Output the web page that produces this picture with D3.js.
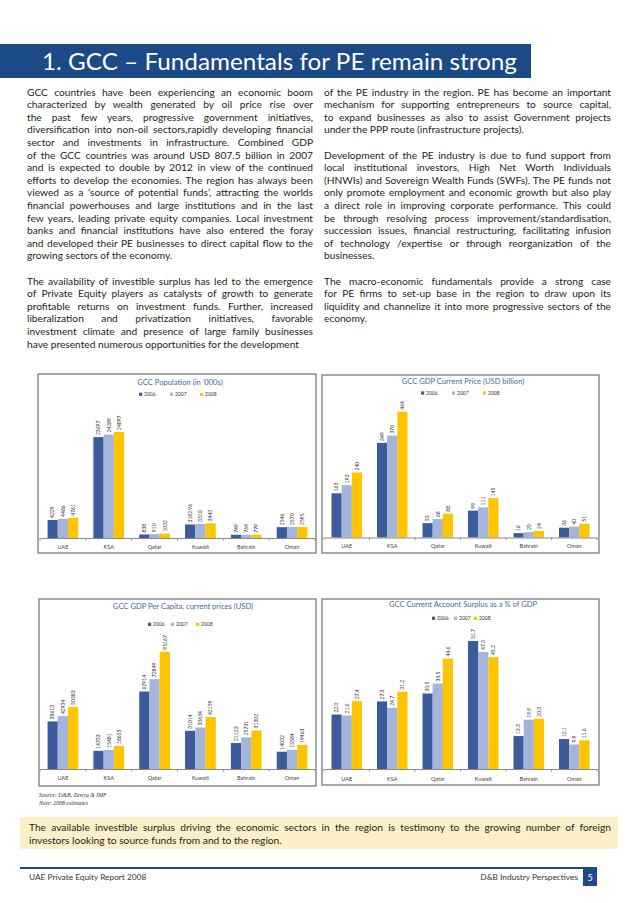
<!DOCTYPE html>
<html>
<head>
<meta charset="utf-8">
<script src="https://cdn.jsdelivr.net/npm/d3@7"></script>
<style>
body { margin: 0; background: #fff; }
svg { display: block; }
</style>
</head>
<body>
<div id="page"></div>
<script>
// chart data
var countries = ["UAE", "KSA", "Qatar", "Kuwait", "Bahrain", "Oman"];
var years = ["2006", "2007", "2008"];
var popValues = [[4229, 4486, 4761], [23697, 24289, 24897], [838, 910, 1032], [3182.96, 3310, 3443], [749, 764, 779], [2546, 2570, 2595]];
var gdpValues = [[163, 193, 240], [349, 376, 464], [53, 68, 88], [99, 111, 145], [16, 20, 24], [36, 40, 51]];
var perCapValues = [[38613, 42934, 50383], [14733, 15481, 18655], [62914, 72849, 95167], [31014, 33634, 42159], [21123, 25731, 31302], [14032, 15584, 19463]];
var surplusValues = [[22.0, 21.6, 27.4], [27.3, 24.7, 31.2], [30.5, 34.5, 44.6], [51.7, 47.3, 45.2], [13.3, 19.9, 20.3], [12.1, 9.9, 11.6]];

// body text, one entry per printed line ("" = blank line, last line of a paragraph not justified)
var leftLines = [
  "GCC countries have been experiencing an economic boom",
  "characterized by wealth generated by oil price rise over",
  "the past few years, progressive government initiatives,",
  "diversification into non-oil sectors,rapidly developing financial",
  "sector and investments in infrastructure. Combined GDP",
  "of the GCC countries was around USD 807.5 billion in 2007",
  "and is expected to double by 2012 in view of the continued",
  "efforts to develop the economies. The region has always been",
  "viewed as a \u2018source of potential funds\u2019, attracting the worlds",
  "financial powerhouses and large institutions and in the last",
  "few years, leading private equity companies. Local investment",
  "banks and financial institutions have also entered the foray",
  "and developed their PE businesses to direct capital flow to the",
  "growing sectors of the economy.",
  "",
  "The availability of investible surplus has led to the emergence",
  "of Private Equity players as catalysts of growth to generate",
  "profitable returns on investment funds. Further, increased",
  "liberalization and privatization initiatives, favorable",
  "investment climate and presence of large family businesses",
  "have presented numerous opportunities for the development"
];
var rightLines = [
  "of the PE industry in the region. PE has become an important",
  "mechanism for supporting entrepreneurs to source capital,",
  "to expand businesses as also to assist Government projects",
  "under the PPP route (infrastructure projects).",
  "",
  "Development of the PE industry is due to fund support from",
  "local institutional investors, High Net Worth Individuals",
  "(HNWIs) and Sovereign Wealth Funds (SWFs). The PE funds not",
  "only promote employment and economic growth but also play",
  "a direct role in improving corporate performance. This could",
  "be through resolving process improvement/standardisation,",
  "succession issues, financial restructuring, facilitating infusion",
  "of technology /expertise or through reorganization of the",
  "businesses.",
  "",
  "The macro-economic fundamentals provide a strong case",
  "for PE firms to set-up base in the region to draw upon its",
  "liquidity and channelize it into more progressive sectors of the",
  "economy."
];
var boxLines = [
  "The available investible surplus driving the economic sectors in the region is testimony to the growing number of foreign",
  "investors looking to source funds from and to the region."
];

var colors = d3.scaleOrdinal().domain(years).range(["#3b5b9c", "#a5b4d9", "#fcc500"]);

var svg = d3.select("#page").append("svg")
    .attr("width", 638)
    .attr("height", 903);

var font = "Lato, 'Open Sans', sans-serif";

// stretch a line to the column width by widening the word gaps
function justify(node, width) {
    var natural = node.getComputedTextLength();
    var gaps = (node.textContent.match(/ /g) || []).length;
    if (natural > width) {
        d3.select(node).attr("textLength", width).attr("lengthAdjust", "spacingAndGlyphs");
    } else if (gaps > 0) {
        d3.select(node).attr("word-spacing", (width - natural) / gaps);
    }
}

function column(lines, x, width, y0, step) {
    lines.forEach(function(line, i) {
        if (line === "") return;
        var t = svg.append("text")
            .attr("x", x)
            .attr("y", y0 + i * step)
            .attr("font-family", font)
            .attr("font-size", 10.2)
            .attr("fill", "#231f20")
            .text(line);
        var last = (i === lines.length - 1) || lines[i + 1] === "";
        if (!last) justify(t.node(), width);
    });
}

// header band
svg.append("rect")
    .attr("x", 0).attr("y", 44)
    .attr("width", 531).attr("height", 34)
    .attr("fill", "#1c4a87");
svg.append("text")
    .attr("x", 42).attr("y", 70)
    .attr("font-family", font)
    .attr("font-size", 24)
    .attr("fill", "#fff")
    .attr("textLength", 475)
    .attr("lengthAdjust", "spacingAndGlyphs")
    .text("1.  GCC \u2013 Fundamentals for PE remain strong");

column(leftLines, 27, 286, 95.5, 12.6);
column(rightLines, 324, 287, 95.5, 12.6);

function barChart(cfg) {
    var g = svg.append("g");

    g.append("rect")
        .attr("x", cfg.frame[0]).attr("y", cfg.frame[1])
        .attr("width", cfg.frame[2]).attr("height", cfg.frame[3])
        .attr("fill", "#fff")
        .attr("stroke", "#7a7a7a")
        .attr("stroke-width", 1.3);

    var x = d3.scaleBand().domain(countries).range([cfg.x0, cfg.x1]);
    var groupW = x.bandwidth() * 0.67;
    var off = (x.bandwidth() - groupW) / 2;
    var inner = d3.scaleBand().domain(years).range([0, groupW]);
    var y = d3.scaleLinear().domain([0, cfg.vmax]).range([cfg.base, cfg.top]);

    var groups = g.selectAll(".grp")
        .data(cfg.values)
        .enter().append("g")
        .attr("transform", function(d, i) { return "translate(" + (x(countries[i]) + off) + ",0)"; });

    groups.selectAll("rect")
        .data(function(d) { return d; })
        .enter().append("rect")
        .attr("x", function(d, j) { return inner(years[j]); })
        .attr("y", function(d) { return y(d); })
        .attr("width", inner.bandwidth())
        .attr("height", function(d) { return cfg.base - y(d); })
        .attr("fill", function(d, j) { return colors(years[j]); });

    groups.selectAll("text")
        .data(function(d) { return d; })
        .enter().append("text")
        .attr("transform", function(d, j) {
            return "translate(" + (inner(years[j]) + inner.bandwidth() / 2 + 1.8) + "," + (y(d) - 2) + ") rotate(-90)";
        })
        .attr("font-family", font)
        .attr("font-size", 5)
        .attr("fill", "#333")
        .text(cfg.fmt);

    var axis = g.append("g")
        .attr("transform", "translate(0," + cfg.base + ")")
        .call(d3.axisBottom(x).tickSize(0).tickSizeOuter(0).tickPadding(cfg.labelPad));
    axis.select(".domain").attr("stroke", "#8a8a8a");
    axis.selectAll("text")
        .attr("font-family", font)
        .attr("font-size", 5.5)
        .attr("fill", "#404040");

    // small ticks between categories
    g.selectAll(".tk")
        .data(countries.map(function(c) { return x(c); }).concat([cfg.x1]))
        .enter().append("line")
        .attr("x1", function(d) { return d; }).attr("x2", function(d) { return d; })
        .attr("y1", cfg.base).attr("y2", cfg.base + 2.5)
        .attr("stroke", "#8a8a8a");

    g.append("text")
        .attr("x", cfg.titleX).attr("y", cfg.titleY)
        .attr("text-anchor", "middle")
        .attr("font-family", font)
        .attr("font-size", 7.6)
        .attr("fill", "#4a6897")
        .text(cfg.title);

    years.forEach(function(yr, j) {
        g.append("rect")
            .attr("x", cfg.legX[j]).attr("y", cfg.legY - 1.6)
            .attr("width", 3.2).attr("height", 3.2)
            .attr("fill", colors(yr));
        g.append("text")
            .attr("x", cfg.legX[j] + 5).attr("y", cfg.legY + 1.8)
            .attr("font-family", font)
            .attr("font-size", 5)
            .attr("fill", "#333")
            .text(yr);
    });
}

barChart({
    frame: [38, 374, 278, 179], x0: 40, x1: 315, base: 538, top: 432, vmax: 24897,
    values: popValues, fmt: function(d) { return String(d); }, labelPad: 7,
    title: "GCC Population (in \u2019000s)", titleX: 180, titleY: 384.5,
    legX: [139, 170, 200], legY: 394.3
});
barChart({
    frame: [322, 375, 277, 178], x0: 324, x1: 597, base: 537.5, top: 411.7, vmax: 464,
    values: gdpValues, fmt: function(d) { return String(d); }, labelPad: 7,
    title: "GCC GDP Current Price (USD billion)", titleX: 463, titleY: 383.5,
    legX: [421, 452, 483], legY: 393
});
barChart({
    frame: [39, 599, 277, 187], x0: 40, x1: 315, base: 769, top: 651.7, vmax: 95167,
    values: perCapValues, fmt: function(d) { return String(d); }, labelPad: 7,
    title: "GCC GDP Per Capita, current prices (USD)", titleX: 183, titleY: 608.5,
    legX: [148, 171, 196], legY: 624.3
});
barChart({
    frame: [322, 599, 277, 186], x0: 324, x1: 597, base: 769, top: 641, vmax: 51.7,
    values: surplusValues, fmt: d3.format(".1f"), labelPad: 8,
    title: "GCC Current Account Surplus as a % of GDP", titleX: 463, titleY: 607,
    legX: [432, 454, 474], legY: 618.3
});

// source note
svg.append("text")
    .attr("x", 39).attr("y", 797)
    .attr("font-family", "'Liberation Serif', serif")
    .attr("font-style", "italic")
    .attr("font-size", 5.8)
    .attr("fill", "#333")
    .text("Source: D&B, Zawya & IMF");
svg.append("text")
    .attr("x", 39).attr("y", 805)
    .attr("font-family", "'Liberation Serif', serif")
    .attr("font-style", "italic")
    .attr("font-size", 5.8)
    .attr("fill", "#333")
    .text("Note: 2008 estimates");

// highlight box
svg.append("rect")
    .attr("x", 20).attr("y", 817)
    .attr("width", 598).attr("height", 32)
    .attr("fill", "#fdf0c9");
boxLines.forEach(function(line, i) {
    var t = svg.append("text")
        .attr("x", 29).attr("y", 831 + i * 13)
        .attr("font-family", font)
        .attr("font-size", 10.2)
        .attr("fill", "#231f20")
        .text(line);
    if (i === 0) justify(t.node(), 582);
});

// footer
svg.append("rect")
    .attr("x", 20).attr("y", 867)
    .attr("width", 572).attr("height", 2)
    .attr("fill", "#1f4c88");
svg.append("text")
    .attr("x", 29).attr("y", 880)
    .attr("font-family", font)
    .attr("font-size", 8.3)
    .attr("fill", "#333")
    .text("UAE Private Equity Report 2008");
svg.append("text")
    .attr("x", 578).attr("y", 880)
    .attr("text-anchor", "end")
    .attr("font-family", font)
    .attr("font-size", 8.3)
    .attr("fill", "#333")
    .text("D&B Industry Perspectives");
svg.append("rect")
    .attr("x", 583).attr("y", 867)
    .attr("width", 14).attr("height", 19)
    .attr("fill", "#1f4c88");
svg.append("text")
    .attr("x", 590).attr("y", 881)
    .attr("text-anchor", "middle")
    .attr("font-family", font)
    .attr("font-size", 9)
    .attr("fill", "#fff")
    .text("5");
</script>
</body>
</html>
